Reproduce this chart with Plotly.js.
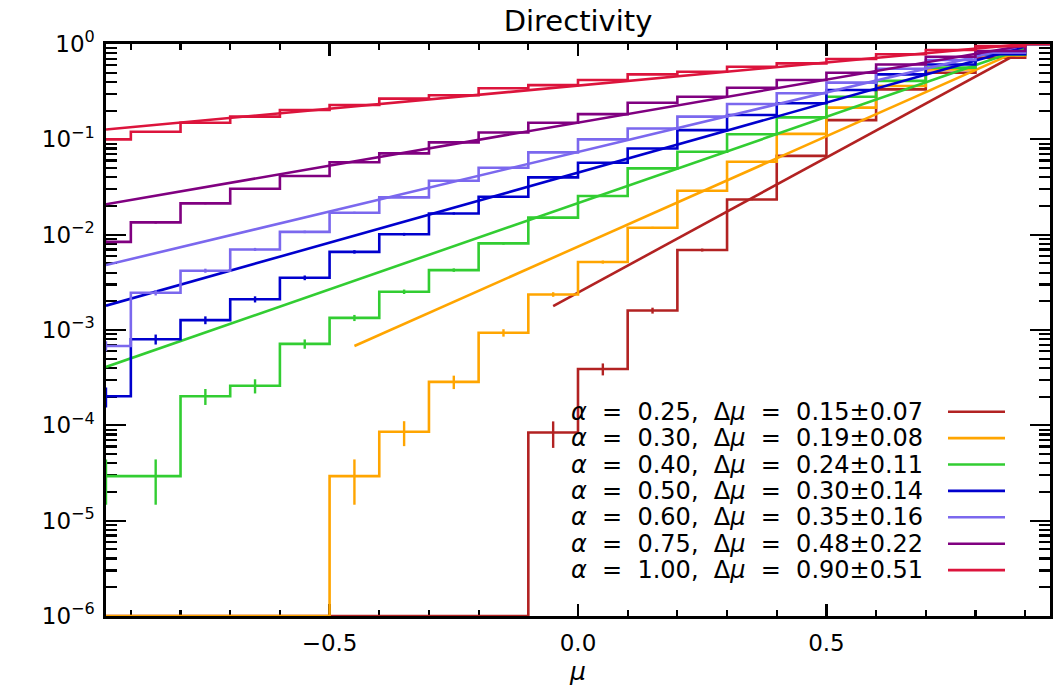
<!DOCTYPE html>
<html>
<head>
<meta charset="utf-8">
<script src="https://cdn.plot.ly/plotly-3.0.1.min.js"></script>
<style>
  html, body { margin: 0; padding: 0; background: #ffffff; }
  #chart { width: 1061px; height: 686px; }
</style>
</head>
<body>
<div id="chart"></div>
<script>
// Bin centres in mu (bin width 0.1)
const mu = [-0.95, -0.85, -0.75, -0.65, -0.55, -0.45, -0.35, -0.25, -0.15, -0.05,
             0.05,  0.15,  0.25,  0.35,  0.45,  0.55,  0.65,  0.75,  0.85,  0.95];

// Normalised histograms (0 = empty bin)
const hist025 = [0, 0, 0, 0, 0, 0, 0, 0, 0, 8.4e-5,
                 3.9e-4, 1.6e-3, 6.9e-3, 0.0234, 0.067, 0.159, 0.334, 0.50, 0.72, 1.0];
const hist030 = [0, 0, 0, 0, 0, 2.93e-5, 8.55e-5, 2.86e-4, 9.35e-4, 2.36e-3,
                 5.16e-3, 0.0118, 0.0289, 0.0582, 0.114, 0.215, 0.363, 0.54, 0.76, 1.0];
const hist040 = [2.93e-5, 2.93e-5, 2.02e-4, 2.6e-4, 7.16e-4, 1.34e-3, 2.52e-3, 4.25e-3, 8.1e-3, 0.0151,
                 0.0254, 0.0496, 0.0741, 0.113, 0.170, 0.28, 0.41, 0.565, 0.77, 1.0];
const hist050 = [2.02e-4, 8.0e-4, 1.27e-3, 2.1e-3, 3.53e-3, 6.6e-3, 0.0101, 0.0167, 0.025, 0.0399,
                 0.0569, 0.080, 0.125, 0.18, 0.239, 0.329, 0.48, 0.61, 0.78, 1.0];
const hist060 = [6.8e-4, 2.46e-3, 4.19e-3, 7.0e-3, 0.0107, 0.017, 0.0246, 0.0368, 0.0504, 0.073,
                 0.1, 0.13, 0.173, 0.235, 0.304, 0.393, 0.55, 0.68, 0.81, 1.0];
const hist075 = [8.4e-3, 0.01345, 0.0213, 0.0303, 0.0412, 0.0574, 0.0713, 0.093, 0.118, 0.149,
                 0.184, 0.242, 0.28, 0.348, 0.419, 0.5, 0.61, 0.736, 0.845, 1.0];
const hist100 = [0.1, 0.12, 0.149, 0.173, 0.203, 0.229, 0.267, 0.29, 0.343, 0.37,
                 0.419, 0.48, 0.512, 0.578, 0.627, 0.696, 0.78, 0.865, 0.95, 1.0];

// Counting errors of each bin
const err025 = [0, 0, 0, 0, 0, 0, 0, 0, 0, 2.6e-5,
                5.6e-5, 1.14e-4, 2.4e-4, 4.3e-4, 7.4e-4, 1.1e-3, 1.6e-3, 2.0e-3, 2.4e-3, 2.8e-3];
const err030 = [0, 0, 0, 0, 0, 1.46e-5, 2.5e-5, 4.6e-5, 8.3e-5, 1.3e-4,
                1.9e-4, 2.9e-4, 4.6e-4, 6.5e-4, 9.1e-4, 1.25e-3, 1.6e-3, 2.0e-3, 2.4e-3, 2.7e-3];
const err040 = [1.46e-5, 1.46e-5, 3.84e-5, 4.4e-5, 8.0e-5, 9.9e-5, 1.36e-4, 1.76e-4, 2.43e-4, 3.3e-4,
                4.3e-4, 6.0e-4, 7.4e-4, 9.1e-4, 1.1e-3, 1.4e-3, 1.7e-3, 2.0e-3, 2.4e-3, 2.7e-3];
const err050 = [4.8e-5, 9.6e-5, 1.2e-4, 1.55e-4, 2.0e-4, 2.75e-4, 3.4e-4, 4.4e-4, 5.4e-4, 6.8e-4,
                8.1e-4, 9.6e-4, 1.2e-3, 1.44e-3, 1.66e-3, 1.95e-3, 2.35e-3, 2.65e-3, 3.0e-3, 3.4e-3];
const err060 = [8.3e-5, 1.57e-4, 2.05e-4, 2.65e-4, 3.3e-4, 4.1e-4, 5.0e-4, 6.1e-4, 7.1e-4, 8.5e-4,
                1.0e-3, 1.14e-3, 1.32e-3, 1.53e-3, 1.74e-3, 1.98e-3, 2.35e-3, 2.6e-3, 2.85e-3, 3.16e-3];
const err075 = [2.9e-4, 3.7e-4, 4.6e-4, 5.5e-4, 6.4e-4, 7.6e-4, 8.4e-4, 9.6e-4, 1.09e-3, 1.22e-3,
                1.36e-3, 1.56e-3, 1.67e-3, 1.87e-3, 2.05e-3, 2.24e-3, 2.47e-3, 2.7e-3, 2.9e-3, 3.16e-3];
const err100 = [1.0e-3, 1.1e-3, 1.22e-3, 1.32e-3, 1.43e-3, 1.51e-3, 1.64e-3, 1.7e-3, 1.85e-3, 1.92e-3,
                2.05e-3, 2.19e-3, 2.26e-3, 2.4e-3, 2.5e-3, 2.64e-3, 2.8e-3, 2.94e-3, 3.08e-3, 3.16e-3];

// Exponential fits: end points of each straight (log-y) line
const fitMuStart = [-0.05, -0.45, -0.95, -0.95, -0.95, -0.95, -0.95];
const fitYStart  = [1.78e-3, 6.8e-4, 4.1e-4, 1.8e-3, 4.8e-3, 0.0208, 0.127];
const fitMuEnd   = [0.9, 0.9, 0.9, 0.9, 0.9, 0.9, 0.9];
const fitYEnd    = [0.875, 0.91, 0.91, 0.94, 0.98, 0.97, 1.0];

// Legend labels
const alphaLabels = ['0.25', '0.30', '0.40', '0.50', '0.60', '0.75', '1.00'];
const dmuLabels   = ['0.15', '0.19', '0.24', '0.30', '0.35', '0.48', '0.90'];
const dmuErrLabels = ['0.07', '0.08', '0.11', '0.14', '0.16', '0.22', '0.51'];

// Axis ticks
const xTickVals = [-0.5, 0.0, 0.5];
const xTickText = ['\u22120.5', '0.0', '0.5'];
const yTickVals = [1e-6, 1e-5, 1e-4, 1e-3, 1e-2, 1e-1, 1e0];
const yTickText = ['10<sup>\u22126</sup>', '10<sup>\u22125</sup>', '10<sup>\u22124</sup>',
                   '10<sup>\u22123</sup>', '10<sup>\u22122</sup>', '10<sup>\u22121</sup>', '10<sup>0</sup>'];

const colors = ['#B22222', '#FFA500', '#32CD32', '#0000CD', '#7B68EE', '#800080', '#DC143C'];
const hists = [hist025, hist030, hist040, hist050, hist060, hist075, hist100];
const errs  = [err025, err030, err040, err050, err060, err075, err100];

const Y_FLOOR = 1e-6;   // empty bins sit on the bottom of the log axis
const FONT = 'DejaVu Sans, Verdana, sans-serif';

const traces = [];
hists.forEach((h, i) => {
  traces.push({
    x: mu,
    y: h.map(v => (v > 0 ? v : Y_FLOOR)),
    mode: 'lines',
    line: { shape: 'hvh', color: colors[i], width: 2.6 },
    error_y: { type: 'data', array: errs[i], visible: true,
               color: colors[i], thickness: 2.4, width: 0 },
    showlegend: false,
    hoverinfo: 'skip'
  });
  traces.push({
    x: [fitMuStart[i], fitMuEnd[i]],
    y: [fitYStart[i], fitYEnd[i]],
    mode: 'lines',
    line: { color: colors[i], width: 2.6 },
    showlegend: false,
    hoverinfo: 'skip'
  });
});

// Legend block: text on the left, line sample on the right
const plotL = 106, plotR = 1050, plotT = 44, plotB = 616;
const pw = plotR - plotL, ph = plotB - plotT;
const rowTop = 411.7, rowStep = 26.4;
const annotations = [];
const shapes = [];
alphaLabels.forEach((a, i) => {
  const py = rowTop + i * rowStep;
  const yp = (plotB - py) / ph;
  annotations.push({
    xref: 'paper', yref: 'paper',
    x: (569 - plotL) / pw, y: yp,
    xanchor: 'left', yanchor: 'middle',
    showarrow: false,
    text: '<i>\u03b1</i>\u00a0\u00a0=\u00a0\u00a0' + a + ',\u00a0\u00a0\u0394<i>\u03bc</i>\u00a0\u00a0=\u00a0\u00a0' +
          dmuLabels[i] + '\u00b1' + dmuErrLabels[i],
    font: { family: FONT, size: 24, color: '#000' }
  });
  shapes.push({
    type: 'line', xref: 'paper', yref: 'paper',
    x0: (948 - plotL) / pw, x1: (1005 - plotL) / pw, y0: yp, y1: yp,
    line: { color: colors[i], width: 2.6 }
  });
});

const layout = {
  width: 1061, height: 686,
  margin: { l: plotL, r: 1061 - plotR, t: plotT, b: 686 - plotB },
  paper_bgcolor: '#ffffff', plot_bgcolor: '#ffffff',
  font: { family: FONT, size: 23, color: '#000' },
  title: {
    text: 'Directivity',
    font: { family: FONT, size: 29, color: '#000' },
    x: 0.5, xref: 'paper', xanchor: 'center',
    y: 1 - 21 / 686, yref: 'container', yanchor: 'middle'
  },
  xaxis: {
    range: [-0.95, 0.95],
    showgrid: false, zeroline: false,
    showline: true, linecolor: '#000', linewidth: 2.6,
    mirror: 'ticks',
    ticks: 'inside', ticklen: 12, tickwidth: 2.2, tickcolor: '#000',
    tickmode: 'array', tickvals: xTickVals, ticktext: xTickText,
    ticklabelstandoff: 5,
    tickfont: { family: FONT, size: 23, color: '#000' },
    minor: { ticks: 'inside', ticklen: 6, tickwidth: 2.2, tickcolor: '#000',
             dtick: 0.1, tick0: 0, showgrid: false },
    title: { text: '<i>\u03bc</i>', font: { family: FONT, size: 25, color: '#000' }, standoff: 10 },
    layer: 'below traces'
  },
  yaxis: {
    type: 'log',
    range: [-6, 0],
    showgrid: false, zeroline: false,
    showline: true, linecolor: '#000', linewidth: 2.6,
    mirror: 'ticks',
    ticks: 'inside', ticklen: 20, tickwidth: 2.2, tickcolor: '#000',
    tickmode: 'array', tickvals: yTickVals, ticktext: yTickText,
    ticklabelstandoff: 4,
    tickfont: { family: FONT, size: 23, color: '#000' },
    minor: { ticks: 'inside', ticklen: 11, tickwidth: 2.2, tickcolor: '#000',
             tickmode: 'array',
             tickvals: (() => { const v = []; for (let e = -6; e < 0; e++) for (let d = 2; d <= 9; d++) v.push(d * Math.pow(10, e)); return v; })(),
             showgrid: false },
    layer: 'below traces'
  },
  annotations: annotations,
  shapes: shapes,
  showlegend: false
};

Plotly.newPlot('chart', traces, layout, { displayModeBar: false, staticPlot: true });
</script>
</body>
</html>
